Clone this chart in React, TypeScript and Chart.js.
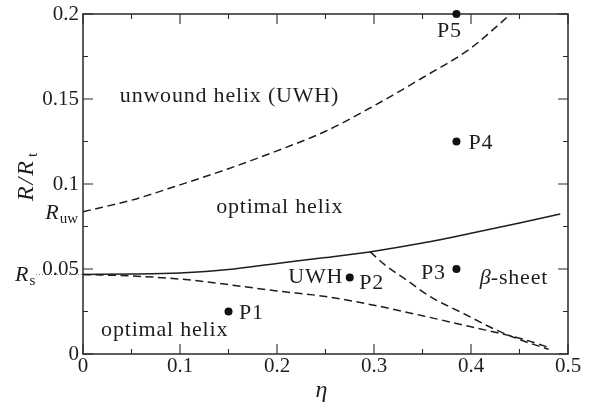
import React, { useEffect, useRef } from 'react';
import { Chart, registerables } from 'chart.js';

Chart.register(...registerables);

// ---- data ----
const solidEta = [0, 0.05, 0.1, 0.15, 0.2, 0.25, 0.3, 0.35, 0.4, 0.45, 0.492];
const solidR = [0.0468, 0.047, 0.0477, 0.0497, 0.0533, 0.0567, 0.0605, 0.0653, 0.071, 0.0771, 0.0824];

const upperEta = [0, 0.05, 0.1, 0.15, 0.2, 0.25, 0.3, 0.35, 0.4, 0.441];
const upperR = [0.0837, 0.0905, 0.0995, 0.109, 0.1195, 0.131, 0.146, 0.1625, 0.18, 0.2];

const lowerEta = [0, 0.05, 0.1, 0.15, 0.2, 0.25, 0.3, 0.35, 0.4, 0.45, 0.478];
const lowerR = [0.0468, 0.0459, 0.0441, 0.0408, 0.0371, 0.0338, 0.0287, 0.0225, 0.016, 0.0093, 0.0043];

const branchEta = [0.296, 0.31, 0.3337, 0.358, 0.392, 0.426, 0.455, 0.48];
const branchR = [0.0602, 0.053, 0.0435, 0.0337, 0.0239, 0.0141, 0.0075, 0.0028];

const pointEta = [0.15, 0.275, 0.385, 0.385, 0.385];
const pointR = [0.025, 0.045, 0.05, 0.125, 0.2];
const pointNames = ['P1', 'P2', 'P3', 'P4', 'P5'];
const pointLabelEta = [0.1735, 0.2976, 0.3612, 0.4101, 0.3778];
const pointLabelR = [0.0239, 0.0416, 0.0478, 0.1239, 0.1896];

const regionNames = ['unwound helix (UWH)', 'optimal helix', 'UWH', 'β-sheet', 'optimal helix'];
const regionEta = [0.151, 0.2028, 0.24, 0.4443, 0.0842];
const regionR = [0.1514, 0.0866, 0.0451, 0.0445, 0.0141];

const etaTicks = [0, 0.1, 0.2, 0.3, 0.4, 0.5];
const etaTickLabels = ['0', '0.1', '0.2', '0.3', '0.4', '0.5'];
const etaMinor = [0.05, 0.15, 0.25, 0.35, 0.45];
const rTicks = [0, 0.05, 0.1, 0.15, 0.2];
const rTickLabels = ['0', '0.05', '0.1', '0.15', '0.2'];
const rMinor = [0.025, 0.075, 0.125, 0.175];

const R_S = 0.0468;
const R_UW = 0.0837;

const SERIF = '"Liberation Serif"';
const INK = '#1e1e1e';
const LABEL_PX = 22;
const LABEL_SPACING = '0.8px';

function pts(xs: number[], ys: number[]) {
  return xs.map((x, i) => ({ x, y: ys[i] }));
}

const overlay = {
  id: 'overlay',
  beforeDatasetsDraw(chart: any) {
    const { ctx, chartArea: a, scales } = chart;
    const xs = scales.x;
    const ys = scales.y;
    ctx.save();
    ctx.strokeStyle = '#2a2a2a';
    ctx.lineWidth = 1.5;
    ctx.strokeRect(a.left, a.top, a.right - a.left, a.bottom - a.top);
    ctx.lineWidth = 1.1;
    const tickX = (vals: number[], len: number) => {
      vals.forEach((v) => {
        const px = xs.getPixelForValue(v);
        ctx.beginPath();
        ctx.moveTo(px, a.bottom);
        ctx.lineTo(px, a.bottom - len);
        ctx.moveTo(px, a.top);
        ctx.lineTo(px, a.top + len);
        ctx.stroke();
      });
    };
    const tickY = (vals: number[], len: number) => {
      vals.forEach((v) => {
        const py = ys.getPixelForValue(v);
        ctx.beginPath();
        ctx.moveTo(a.left, py);
        ctx.lineTo(a.left + len, py);
        ctx.moveTo(a.right, py);
        ctx.lineTo(a.right - len, py);
        ctx.stroke();
      });
    };
    tickX(etaTicks, 10);
    tickX(etaMinor, 5);
    tickY(rTicks, 10);
    tickY(rMinor, 5);

    // dotted line for R_s
    const ps = ys.getPixelForValue(R_S);
    ctx.strokeStyle = '#777';
    ctx.lineWidth = 1;
    ctx.setLineDash([1, 2]);
    ctx.beginPath();
    ctx.moveTo(36, ps);
    ctx.lineTo(a.left, ps);
    ctx.stroke();
    ctx.setLineDash([]);
    ctx.restore();
  },
  afterDatasetsDraw(chart: any) {
    const { ctx, chartArea: a, scales } = chart;
    const xs = scales.x;
    const ys = scales.y;
    ctx.save();
    ctx.fillStyle = INK;

    // tick labels
    ctx.font = `21px ${SERIF}`;
    ctx.textBaseline = 'middle';
    ctx.textAlign = 'center';
    etaTicks.forEach((v, i) => {
      ctx.fillText(etaTickLabels[i], xs.getPixelForValue(v), a.bottom + 12);
    });
    ctx.textAlign = 'right';
    rTicks.forEach((v, i) => {
      ctx.fillText(rTickLabels[i], a.left - 4, ys.getPixelForValue(v));
    });

    // R_uw and R_s labels
    const sub = (main: string, s: string, x: number, y: number, alignRight: boolean) => {
      ctx.font = `italic 22px ${SERIF}`;
      const wm = ctx.measureText(main).width;
      ctx.font = `15px ${SERIF}`;
      const ws = ctx.measureText(s).width;
      const x0 = alignRight ? x - wm - ws - 1 : x;
      ctx.textAlign = 'left';
      ctx.textBaseline = 'alphabetic';
      ctx.font = `italic 22px ${SERIF}`;
      ctx.fillText(main, x0, y);
      ctx.font = `15px ${SERIF}`;
      ctx.fillText(s, x0 + wm + 1, y + 4);
    };
    sub('R', 'uw', a.left - 5, ys.getPixelForValue(R_UW) + 7, true);
    sub('R', 's', 15, ys.getPixelForValue(R_S) + 7, false);

    // region labels
    ctx.textBaseline = 'middle';
    const setLabel = (italic: boolean, spacing: string) => {
      ctx.font = `${italic ? 'italic ' : ''}${LABEL_PX}px ${SERIF}`;
      (ctx as any).letterSpacing = spacing;
    };
    regionNames.forEach((name, i) => {
      const x = xs.getPixelForValue(regionEta[i]);
      const y = ys.getPixelForValue(regionR[i]);
      if (name.startsWith('β')) {
        setLabel(true, '0px');
        const wb = ctx.measureText('β').width;
        setLabel(false, LABEL_SPACING);
        const wr = ctx.measureText(name.slice(1)).width;
        const x0 = x - (wb + wr) / 2;
        ctx.textAlign = 'left';
        setLabel(true, '0px');
        ctx.fillText('β', x0, y);
        setLabel(false, LABEL_SPACING);
        ctx.fillText(name.slice(1), x0 + wb, y);
      } else {
        setLabel(false, LABEL_SPACING);
        ctx.textAlign = 'center';
        ctx.fillText(name, x, y);
      }
    });
    pointNames.forEach((name, i) => {
      setLabel(false, LABEL_SPACING);
      ctx.textAlign = 'center';
      ctx.fillText(name, xs.getPixelForValue(pointLabelEta[i]), ys.getPixelForValue(pointLabelR[i]));
    });
    (ctx as any).letterSpacing = '0px';

    // axis titles
    ctx.textAlign = 'center';
    ctx.textBaseline = 'alphabetic';
    ctx.font = `italic 24px ${SERIF}`;
    ctx.fillText('η', (a.left + a.right) / 2 - 4, 397);

    ctx.save();
    ctx.translate(33, 176);
    ctx.rotate(-Math.PI / 2);
    ctx.font = `italic 24px ${SERIF}`;
    (ctx as any).letterSpacing = '2px';
    const wMain = ctx.measureText('R/R').width;
    ctx.font = `15px ${SERIF}`;
    const wT = ctx.measureText('t').width;
    const total = wMain + wT + 2;
    ctx.textAlign = 'left';
    ctx.font = `italic 24px ${SERIF}`;
    ctx.fillText('R/R', -total / 2, 0);
    (ctx as any).letterSpacing = '0px';
    ctx.font = `15px ${SERIF}`;
    ctx.fillText('t', -total / 2 + wMain + 2, 4);
    ctx.restore();

    ctx.restore();
  },
};

export default function App() {
  const ref = useRef<HTMLCanvasElement | null>(null);
  useEffect(() => {
    if (!ref.current) return;
    const lineStyle = {
      borderColor: INK,
      borderWidth: 1.5,
      pointRadius: 0,
      showLine: true,
      fill: false,
      cubicInterpolationMode: 'monotone' as const,
    };
    const dash = [8, 4.5];
    const chart = new Chart(ref.current, {
      type: 'scatter',
      data: {
        datasets: [
          { ...lineStyle, label: 'Rs boundary', data: pts(solidEta, solidR) },
          { ...lineStyle, label: 'Ruw boundary', data: pts(upperEta, upperR), borderDash: dash },
          { ...lineStyle, label: 'lower boundary', data: pts(lowerEta, lowerR), borderDash: dash },
          { ...lineStyle, label: 'beta boundary', data: pts(branchEta, branchR), borderDash: dash },
          {
            label: 'points',
            data: pts(pointEta, pointR),
            showLine: false,
            pointRadius: 4,
            pointBackgroundColor: '#111',
            pointBorderColor: '#111',
            pointBorderWidth: 0,
            clip: false,
          } as any,
        ],
      },
      options: {
        responsive: false,
        animation: false,
        layout: { padding: { left: 83, right: 27, top: 14, bottom: 50 } },
        scales: {
          x: { type: 'linear', min: 0, max: 0.5, display: false },
          y: { type: 'linear', min: 0, max: 0.2, display: false },
        },
        plugins: {
          legend: { display: false },
          tooltip: { enabled: false },
        },
      },
      plugins: [overlay],
    });
    return () => chart.destroy();
  }, []);
  return (
    <div style={{ position: 'fixed', left: 0, top: 0, width: 595, height: 404, background: '#fff' }}>
      <canvas ref={ref} width={595} height={404} style={{ display: 'block' }} />
    </div>
  );
}
